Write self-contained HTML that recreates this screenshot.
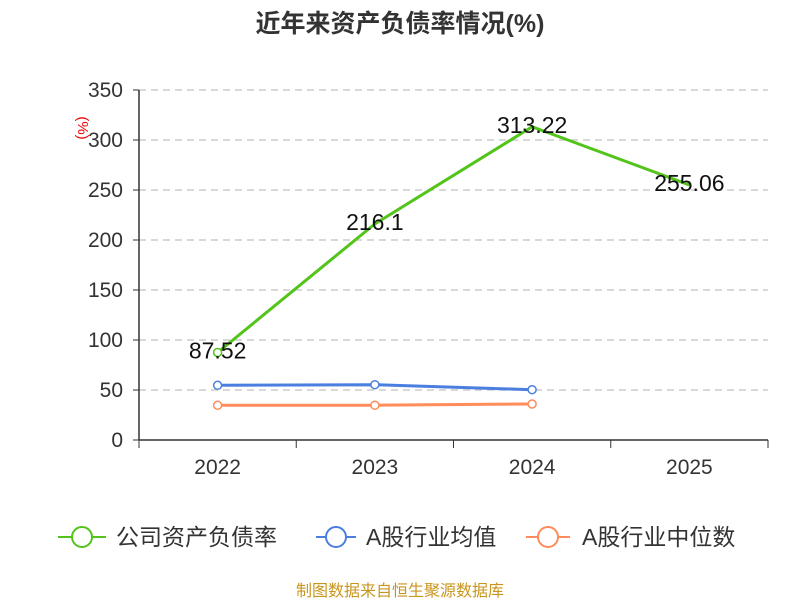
<!DOCTYPE html>
<html><head><meta charset="utf-8"><style>
body{margin:0;background:#fff}
svg{display:block;font-family:"Liberation Sans","Noto Sans CJK SC",sans-serif}
</style></head><body>
<svg id="c" width="800" height="600">
<text x="400" y="32" text-anchor="middle" font-size="25" font-weight="bold" fill="#333">近年来资产负债率情况(%)</text>
<text x="78" y="128" font-size="15" fill="#e00" transform="rotate(90 78 128)" text-anchor="middle">(%)</text>
<g id="grid"></g><g id="axes"></g><g id="series"></g>
<g font-size="23" fill="#333">
<g><line x1="58" y1="537" x2="106" y2="537" stroke="#52c41a" stroke-width="2"/><circle cx="82" cy="537" r="10" fill="#fff" stroke="#52c41a" stroke-width="2"/><text x="116" y="545">公司资产负债率</text></g>
<g><line x1="316" y1="537" x2="356" y2="537" stroke="#4a7fe0" stroke-width="2"/><circle cx="336" cy="537" r="10" fill="#fff" stroke="#4a7fe0" stroke-width="2"/><text x="366" y="545">A股行业均值</text></g>
<g><line x1="526" y1="537" x2="570" y2="537" stroke="#ff8c5a" stroke-width="2"/><circle cx="548" cy="537" r="10" fill="#fff" stroke="#ff8c5a" stroke-width="2"/><text x="582" y="545">A股行业中位数</text></g>
</g>
<text x="400" y="596" text-anchor="middle" font-size="16" fill="#c8961e">制图数据来自恒生聚源数据库</text>
</svg>
<script>
const categories=["2022","2023","2024","2025"];
const companyValues=[87.52,216.1,313.22,255.06];
const companyLabels=["87.52","216.1","313.22","255.06"];
const meanValues=[54.7,55.3,50.3];
const medianValues=[34.7,34.8,36];
const yTicks=[0,50,100,150,200,250,300,350];
const NS="http://www.w3.org/2000/svg";
const x0=139,x1=768,y0=440,y1=90,yMax=350;
const bw=(x1-x0)/categories.length;
const X=i=>x0+bw*(i+0.5);
const Y=v=>y0-(v/yMax)*(y0-y1);
function mk(tag,attrs,parent){const e=document.createElementNS(NS,tag);for(const k in attrs)e.setAttribute(k,attrs[k]);parent.appendChild(e);return e;}
const grid=document.getElementById('grid'),axes=document.getElementById('axes'),ser=document.getElementById('series');
yTicks.forEach(t=>{
 if(t>0){const g=mk('line',{x1:x0,x2:x1,y1:Y(t),y2:Y(t),stroke:'#ccc','stroke-dasharray':'7,5','stroke-width':1.5},grid);
 
 }
 const tk=mk('line',{x1:x0-6,x2:x0,y1:Y(t),y2:Y(t),stroke:'#333'},axes);
 
 
 const tx=mk('text',{x:x0-16,y:Y(t)+7,'text-anchor':'end','font-size':21,fill:'#333'},axes);tx.textContent=t;
 
 
});
const ya=mk('line',{x1:x0,x2:x0,y1:y1,y2:y0,stroke:'#333','stroke-width':1.5},axes);


const xa=mk('line',{x1:x0,x2:x1,y1:y0,y2:y0,stroke:'#333','stroke-width':1.5},axes);


for(let i=0;i<=categories.length;i++){const t=mk('line',{x1:x0+bw*i,x2:x0+bw*i,y1:y0,y2:y0+8,stroke:'#333'},axes);
 
 }
categories.forEach((c,i)=>{const t=mk('text',{x:X(i),y:y0+34,'text-anchor':'middle','font-size':21,fill:'#333'},axes);t.textContent=c;
 
 });
function line(vals,color,name,dots){
 const p=mk('polyline',{points:vals.map((v,i)=>X(i)+','+Y(v)).join(' '),fill:'none',stroke:color,'stroke-width':3,'stroke-linejoin':'round'},ser);
 
 
 vals.forEach((v,i)=>{if(!dots&&i>0)return;const c=mk('circle',{cx:X(i),cy:Y(v),r:4,fill:'#fff',stroke:color,'stroke-width':1.5},ser);
 
 });
}
line(meanValues,'#4a7fe0','industry-mean',true);
line(medianValues,'#ff8c5a','industry-median',true);
line(companyValues,'#52c41a','company',false);
companyValues.forEach((v,i)=>{const t=mk('text',{x:X(i),y:Y(v)+6,'text-anchor':'middle','font-size':23,fill:'#111'},ser);t.textContent=companyLabels[i];
 
 });
</script>
</body></html>
